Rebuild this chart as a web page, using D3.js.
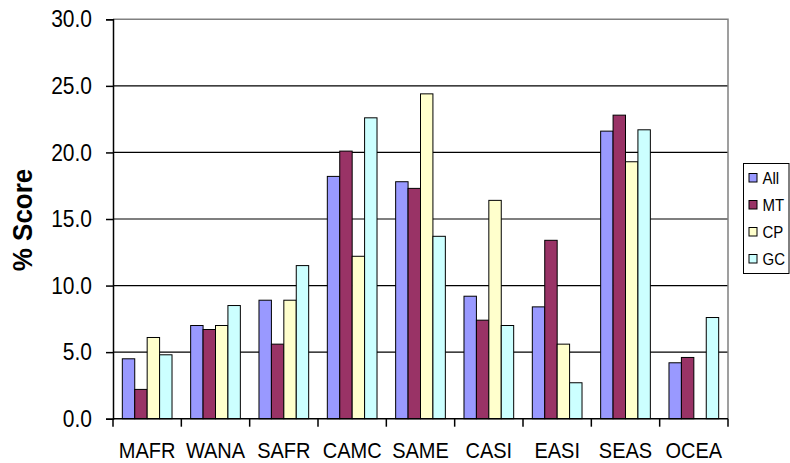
<!DOCTYPE html>
<html>
<head>
<meta charset="utf-8">
<script src="https://cdn.jsdelivr.net/npm/d3@7"></script>
<style>
  html, body { margin: 0; padding: 0; background: #fff; }
  svg { display: block; font-family: "Liberation Sans", Arial, sans-serif; }
</style>
</head>
<body>
<svg id="chart" width="790" height="463"></svg>
<script>
// Regions on the x axis
const categories = ["MAFR", "WANA", "SAFR", "CAMC", "SAME", "CASI", "EASI", "SEAS", "OCEA"];
// Series names and their values (% score) per region; null = no value
const seriesNames = ["All", "MT", "CP", "GC"];
const allValues = [4.5, 7.0, 8.9, 18.2, 17.8, 9.2, 8.4, 21.6, 4.2];
const mtValues  = [2.2, 6.7, 5.6, 20.1, 17.3, 7.4, 13.4, 22.8, 4.6];
const cpValues  = [6.1, 7.0, 8.9, 12.2, 24.4, 16.4, 5.6, 19.3, null];
const gcValues  = [4.8, 8.5, 11.5, 22.6, 13.7, 7.0, 2.7, 21.7, 7.6];
const seriesColors = ["#9999FF", "#993366", "#FFFFCC", "#CCFFFF"];
const yTicks = [0, 5, 10, 15, 20, 25, 30];

const seriesValues = [allValues, mtValues, cpValues, gcValues];

const svg = d3.select("#chart");
const plot = { left: 113, right: 728, top: 19.3, bottom: 418.7 };

const x = d3.scaleBand()
  .domain(categories)
  .range([plot.left, plot.right])
  .paddingInner(0).paddingOuter(0);

// 150% gap: 4 bars + 1.5 bar widths of gap per category
const xs = d3.scaleBand()
  .domain(seriesNames)
  .range([0, x.bandwidth()])
  .paddingInner(0)
  .paddingOuter(0.75);

const y = d3.scaleLinear().domain([0, 30]).range([plot.bottom, plot.top]);

// Horizontal gridlines
svg.append("g")
  .selectAll("line")
  .data(yTicks.filter(t => t > 0 && t < 30))
  .join("line")
  .attr("x1", plot.left).attr("x2", plot.right)
  .attr("y1", d => y(d)).attr("y2", d => y(d))
  .attr("stroke", "#000").attr("stroke-width", 1.2);

// Plot frame (top and right edges)
svg.append("path")
  .attr("d", `M${plot.left},${y(30)}H${plot.right}V${plot.bottom}`)
  .attr("fill", "none").attr("stroke", "#808080").attr("stroke-width", 1.5);

// Bars
const groups = svg.append("g")
  .selectAll("g")
  .data(categories)
  .join("g")
  .attr("transform", d => `translate(${x(d)},0)`);

groups.selectAll("rect")
  .data((c, i) => seriesNames.map((s, k) => ({ s, k, v: seriesValues[k][i] })).filter(d => d.v != null))
  .join("rect")
  .attr("x", d => xs(d.s))
  .attr("width", xs.bandwidth())
  .attr("y", d => y(d.v))
  .attr("height", d => y(0) - y(d.v))
  .attr("fill", d => seriesColors[d.k])
  .attr("stroke", "#000")
  .attr("stroke-width", 1);

// Y axis
const yAxis = svg.append("g")
  .attr("transform", `translate(${plot.left},0)`)
  .call(d3.axisLeft(y).tickValues(yTicks).tickFormat(d3.format(".1f")).tickSize(7).tickPadding(14));
yAxis.select(".domain").attr("stroke", "#000").attr("stroke-width", 1.5);
yAxis.selectAll(".tick line").attr("stroke", "#000").attr("stroke-width", 1.5);
yAxis.selectAll(".tick text")
  .attr("font-size", 21).attr("fill", "#000")
  .attr("font-family", "'Liberation Sans', Arial, sans-serif")
  .attr("dy", "0.33em")
  .attr("transform", "scale(1,1.1)");

// X axis: ticks at category boundaries
const xAxis = svg.append("g")
  .attr("transform", `translate(0,${plot.bottom})`);
xAxis.append("line")
  .attr("x1", plot.left).attr("x2", plot.right)
  .attr("stroke", "#000").attr("stroke-width", 1.5);
const boundaries = categories.map(c => x(c)).concat([plot.right]);
xAxis.selectAll("line.tick")
  .data(boundaries)
  .join("line")
  .attr("class", "tick")
  .attr("x1", d => d).attr("x2", d => d)
  .attr("y1", 0).attr("y2", 8)
  .attr("stroke", "#000").attr("stroke-width", 1.5);
xAxis.selectAll("text")
  .data(categories)
  .join("text")
  .attr("transform", d => `translate(${x(d) + x.bandwidth() / 2},39.5) scale(1,1.06)`)
  .attr("text-anchor", "middle")
  .attr("font-size", 20)
  .attr("fill", "#000")
  .text(d => d);

// Y axis title
svg.append("text")
  .attr("transform", "translate(32,220) rotate(-90) scale(1,1.06)")
  .attr("text-anchor", "middle")
  .attr("font-size", 26)
  .attr("font-weight", "bold")
  .attr("fill", "#000")
  .text("% Score");

// Legend
const legend = svg.append("g");
legend.append("rect")
  .attr("x", 743.5).attr("y", 163.5)
  .attr("width", 45.5).attr("height", 110)
  .attr("fill", "#fff").attr("stroke", "#000").attr("stroke-width", 1);
const items = legend.selectAll("g.item")
  .data(seriesNames)
  .join("g")
  .attr("class", "item")
  .attr("transform", (d, i) => `translate(0,${178 + i * 27})`);
items.append("rect")
  .attr("x", 749).attr("y", -4.5)
  .attr("width", 8).attr("height", 8.5)
  .attr("fill", (d, i) => seriesColors[i])
  .attr("stroke", "#000").attr("stroke-width", 1);
items.append("text")
  .attr("transform", "translate(762.5,6) scale(1,1.1)")
  .attr("font-size", 15)
  .attr("fill", "#000")
  .text(d => d);
</script>
</body>
</html>
